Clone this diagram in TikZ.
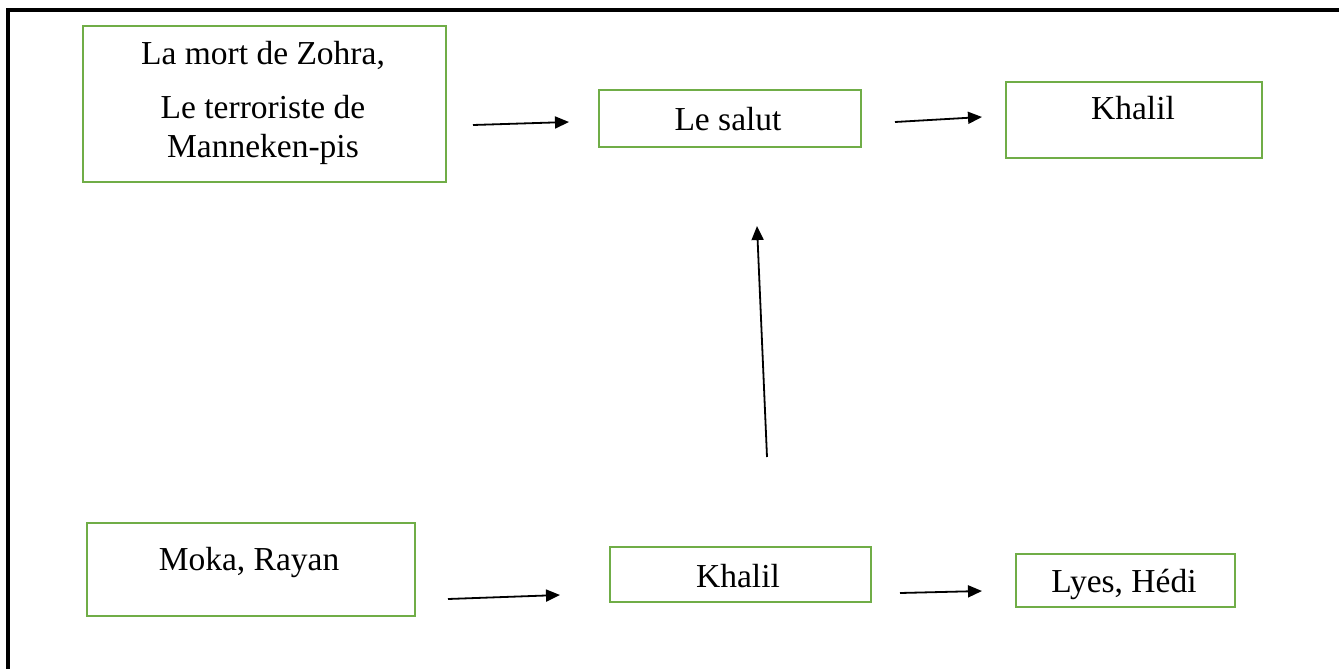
\documentclass[tikz,border=0pt]{standalone}
\usepackage{fontspec}
\setmainfont{Liberation Serif}
\usetikzlibrary{arrows.meta}
\definecolor{boxgreen}{RGB}{112,173,71}
\tikzset{
  box/.style={draw=boxgreen, line width=2pt, inner sep=0pt},
  lbl/.style={anchor=base, inner sep=0pt, font=\fontsize{33.5}{40}\selectfont, text=black},
  link/.style={line width=1.8pt, -{Triangle[length=14pt,width=12pt]}},
  frame/.style={line width=3.2pt, line cap=rect}
}
\begin{document}
\begin{tikzpicture}[x=1pt,y=-1pt]
\useasboundingbox (0,0) rectangle (1339,669);
% page frame (left and top edges)
\draw[frame] (8,669) -- (8,10) -- (1339,10);

% boxes
\node[box, minimum width=363pt, minimum height=156pt] (sources) at (264.5,104) {};
\node[box, minimum width=262pt, minimum height=57pt] (salut) at (730,118.5) {};
\node[box, minimum width=256pt, minimum height=76pt] (khalilT) at (1134,120) {};
\node[box, minimum width=328pt, minimum height=93pt] (moka) at (251,569.5) {};
\node[box, minimum width=261pt, minimum height=55pt] (khalilB) at (740.5,574.5) {};
\node[box, minimum width=219pt, minimum height=53pt] (lyes) at (1125.5,580.5) {};

% texts
\node[lbl] (t1) at (263,65) {La mort de Zohra,};
\node[lbl] (t2) at (263,118) {Le terroriste de};
\node[lbl] (t3) at (263,157) {Manneken-pis};
\node[lbl] (t4) at (728,130) {Le salut};
\node[lbl] (t5) at (1133,119) {Khalil};
\node[lbl] (t6) at (249,570) {Moka, Rayan};
\node[lbl] (t7) at (738,587) {Khalil};
\node[lbl] (t8) at (1124,592) {Lyes, Hédi};

% connector ends
\coordinate (a1) at (473,125);  \coordinate (a2) at (569,122);
\coordinate (b1) at (895,122);  \coordinate (b2) at (982,117);
\coordinate (c1) at (448,599);  \coordinate (c2) at (560,595);
\coordinate (d1) at (900,593);  \coordinate (d2) at (982,591);
\coordinate (u1) at (767,457);  \coordinate (u2) at (757,226);

% connectors
\draw[link] (a1) -- (a2);
\draw[link] (b1) -- (b2);
\draw[link] (c1) -- (c2);
\draw[link] (d1) -- (d2);
\draw[link] (u1) -- (u2);
\end{tikzpicture}
\end{document}
